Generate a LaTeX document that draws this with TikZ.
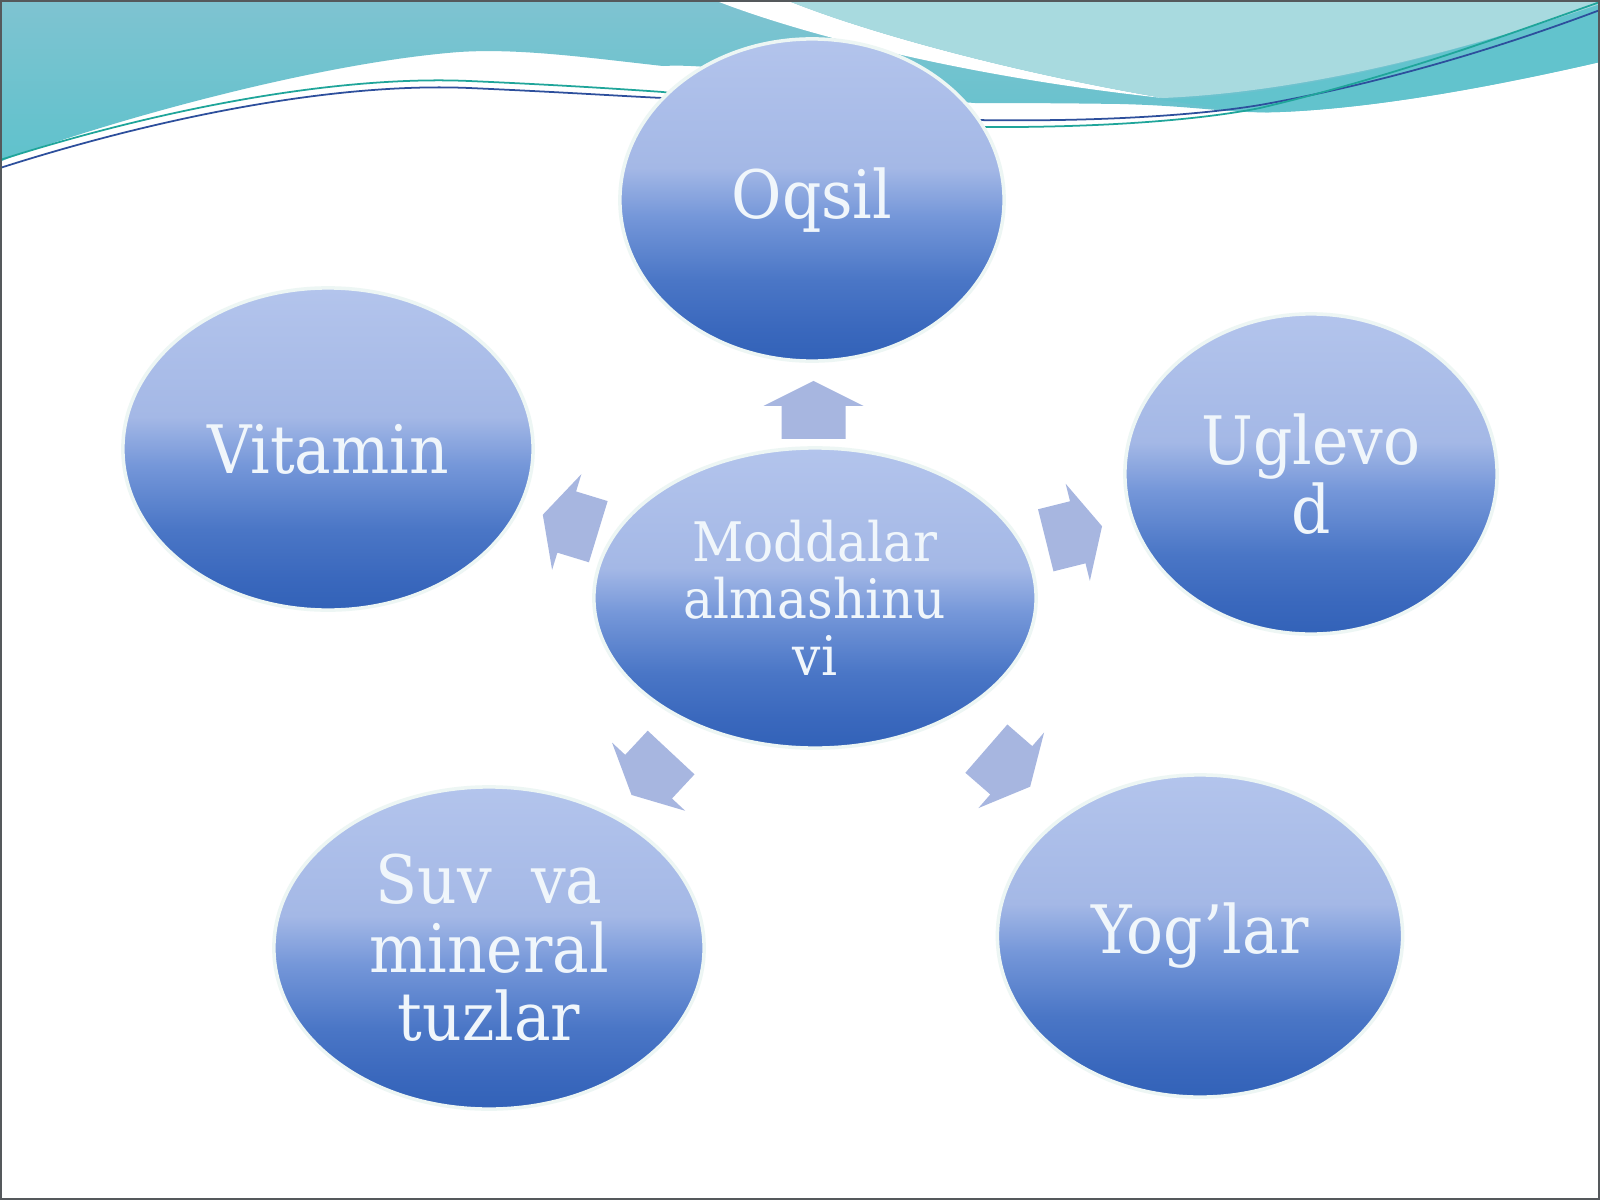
\documentclass[tikz,border=0pt]{standalone}
\usepackage{fontspec}
\setmainfont{DejaVu Serif}[FakeStretch=0.92]
\usepackage{tikz}
\usetikzlibrary{shapes.geometric, calc}

\definecolor{tealtop}{HTML}{7FC3D1}
\definecolor{teallow}{HTML}{5FC2CC}
\definecolor{teallight}{HTML}{A8DADF}
\definecolor{tealband}{HTML}{62C3CD}
\definecolor{lineblue}{HTML}{2D4F9C}
\definecolor{linegreen}{HTML}{1FA59A}
\definecolor{framegray}{HTML}{55595C}
\definecolor{ballTop}{HTML}{B3C4EC}
\definecolor{ballLight}{HTML}{A4B8E6}
\definecolor{ballMid}{HTML}{7597D9}
\definecolor{ballDark}{HTML}{4A76C6}
\definecolor{ballDeep}{HTML}{3A68BD}
\definecolor{ballEdge}{HTML}{3262B8}
\definecolor{ballGlow}{HTML}{EDF6F4}
\definecolor{ballText}{HTML}{F0F6FB}
\definecolor{arrowfill}{HTML}{A7B6E0}

\pgfdeclareverticalshading{ballshade}{100bp}{color(0bp)=(ballEdge); color(25bp)=(ballEdge); color(30bp)=(ballDeep); color(37.5bp)=(ballDark); color(47.5bp)=(ballMid); color(55bp)=(ballLight); color(75bp)=(ballTop); color(100bp)=(ballTop)}

\begin{document}
\begin{tikzpicture}[x=0.01cm, y=-0.01cm,
	ball/.style={ellipse, shading=ballshade, text=ballText, align=center, inner sep=0pt,
		draw=ballGlow, line width=1pt},
	bigtext/.style={font=\fontsize{19}{19.5}\selectfont},
	smalltext/.style={font=\fontsize{15.5}{16.2}\selectfont},
	blockarr/.pic={
		\fill[arrowfill] (-28,-32) -- (5,-32) -- (5,-50) -- (30,0) -- (5,50) -- (5,32) -- (-28,32) -- cycle;
	}]
		\useasboundingbox (0,0) rectangle (1600,1200);
		\fill[white] (0,0) rectangle (1600,1200);

		%%% Wave at the top
		\shade[top color=tealtop, bottom color=teallow] (0,0) -- (1600,0) -- (1600,62)
			.. controls (1500,85) and (1380,108) .. (1280,112)
			.. controls (1230,114) and (1200,106) .. (1120,104)
			.. controls (1050,103) and (1000,103) .. (975,103)
			.. controls (850,95) and (740,62) .. (663,66)
			.. controls (590,58) and (520,48) .. (459,52)
			.. controls (330,62) and (150,110) .. (41,147)
			.. controls (20,154) and (8,158) .. (0,162) -- cycle;
		\fill[tealband] (1160,100) .. controls (1300,95) and (1450,55) .. (1600,4) -- (1600,62)
			.. controls (1500,85) and (1380,108) .. (1280,112)
			.. controls (1230,114) and (1200,104) .. (1160,100) -- cycle;
		\fill[white] (714,0) .. controls (790,30) and (950,75) .. (1163,98)
			.. controls (1000,70) and (860,30) .. (786,0) -- cycle;
		\fill[teallight] (786,0) .. controls (860,30) and (1000,70) .. (1163,98)
			.. controls (1300,92) and (1450,55) .. (1600,4) -- (1600,0) -- cycle;
		\draw[lineblue, line width=0.5pt] (0,168) .. controls (150,120) and (330,82) .. (469,88)
			.. controls (560,92) and (620,96) .. (663,98)
			.. controls (800,110) and (900,119) .. (975,120)
			.. controls (1100,122) and (1200,115) .. (1260,105)
			.. controls (1400,80) and (1520,40) .. (1600,10);
		\draw[linegreen, line width=0.5pt] (0,160) .. controls (150,112) and (330,75) .. (469,81)
			.. controls (560,85) and (620,89) .. (663,92)
			.. controls (800,112) and (900,126) .. (975,127)
			.. controls (1100,128) and (1200,120) .. (1260,108)
			.. controls (1400,75) and (1520,30) .. (1600,2);

		%%% The ellipses
		\node[ball, bigtext, minimum width=3.84cm, minimum height=3.22cm] (oqsil) at (812,200) {Oqsil};
		\node[ball, bigtext, minimum width=4.10cm, minimum height=3.22cm] (vitamin) at (328,449) {Vitamin};
		\node[ball, bigtext, minimum width=3.72cm, minimum height=3.20cm] (uglevod) at (1311,474) {Uglevo\\d};
		\node[ball, smalltext, minimum width=4.42cm, minimum height=3.00cm] (mod) at (815,598) {Moddalar\\almashinu\\vi};
		\node[ball, bigtext, minimum width=4.30cm, minimum height=3.22cm] (suv) at (489,948) {Suv\ \ va\\mineral\\tuzlar};
		\node[ball, bigtext, minimum width=4.05cm, minimum height=3.22cm] (yoglar) at (1200,936) {Yog’lar};

		%%% Arrows
		\pic[rotate=90] at ($(mod)!0.47!(oqsil)$) {blockarr};
		\pic[rotate=163] at ($(mod)!0.5!(vitamin)$) {blockarr};
		\pic[rotate=14] at ($(mod)!0.52!(uglevod)$) {blockarr};
		\pic[rotate=-41] at ($(mod)!0.5!(yoglar)$) {blockarr};
		\pic[rotate=227] at ($(mod)!0.5!(suv)$) {blockarr};

		\draw[framegray, line width=0.8pt] (1,1) rectangle (1599,1199);
\end{tikzpicture}
\end{document}
